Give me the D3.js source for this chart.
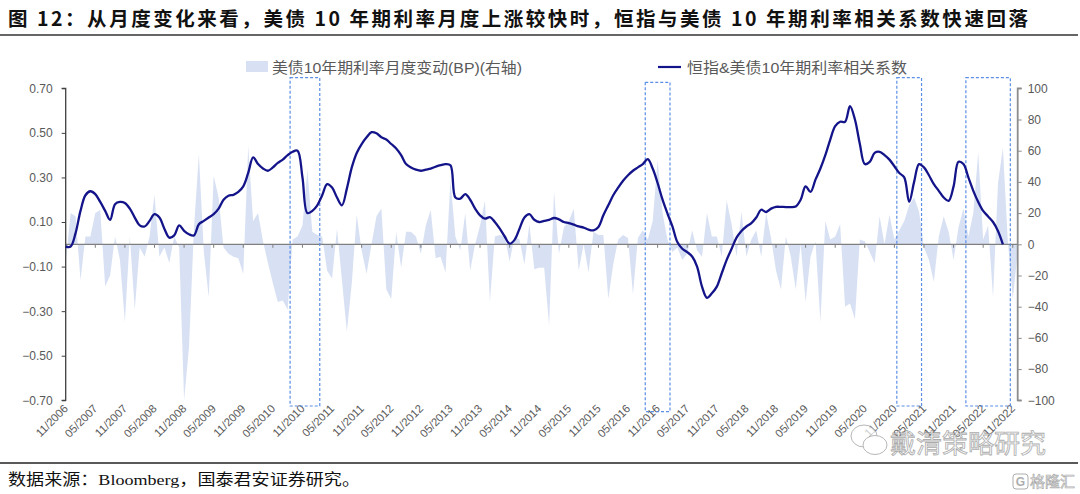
<!DOCTYPE html>
<html><head><meta charset="utf-8">
<script src="https://cdn.jsdelivr.net/npm/d3@7/dist/d3.min.js"></script>
<style>body{margin:0;background:#fff}svg{display:block}</style>
</head><body><svg id="c" width="1080" height="494"></svg>
<script>
// ---------------- data ----------------
const startMonth = "2006-11";
const monthCount = 194; // 11/2006 .. 12/2022

// 美债10年期利率月度变动(BP) — right axis
const bpChange = [
 -12, 20, 18,-23,  5,  5, 20, 22,-27,-20,
   5,-10,-50,  5,-42, -2, -8,  5, 32, -8,
  -2,-12,  5, -2,-100,-66, 10, 58, -5,-34,
  44, 30, -2, -6, -8, -9,-19, 63, 15, 20,
   2,-12,-25,-37,-36,-42,  3,  5, 12, 48,
   8,  6,  5,-17,-22, 10,-23,-56,-25, 19,
  -4,-19,  0, 18, 23,-29,-35,  8,-15,  8,
   8,  5, -6, 12, 22, -9, -8,-18, 41,  5,
  -4, 20,-17,  0, 12, 28,-37,  5,  6,  5,
 -11,  5,  3,-13, 13,-16,-15,-15,-52, 34,
  -6, 11, 15, 23,-17,  0,-18,  8,  6,  6,
 -35,-13,  3,  6,  4,-32,  4,  9,  3, 15,
  54, 20,  3, -5, -2,-10, -6,  9, -4, -8,
  20,  5,  5, -8, 28, 13, -8, 21, -8,  3,
   9, -8, 20,  4,-17,-29,  5, -8,-29,  0,
 -37, -8,  2,-50, 15,  3,  5, 13,-40,-38,
 -48,  3,  2, -5,-12, 18,  0, 19,  3,  9,
  15, 25, 30, 21, -2,-10,-24,  5, 18,  8,
 -10, 11, 23,  5, 20, 59,  3, 12,-34, 39,
  62,  2,-35, -5
];

// 恒指&美债10年期利率相关系数 — left axis
const correlation = [
 -0.01,-0.01,0.05,0.15,0.22,0.238,0.225,0.19,0.15,0.11,
 0.18,0.19,0.185,0.16,0.12,0.085,0.08,0.105,0.135,0.12,
 0.07,0.03,0.04,0.085,0.06,0.045,0.04,0.09,0.105,0.12,
 0.135,0.16,0.2,0.218,0.222,0.235,0.26,0.32,0.39,0.36,
 0.34,0.33,0.345,0.365,0.38,0.4,0.415,0.42,0.3,0.14,
 0.15,0.175,0.22,0.27,0.255,0.21,0.175,0.25,0.345,0.41,
 0.45,0.48,0.503,0.498,0.48,0.47,0.45,0.43,0.4,0.36,
 0.345,0.335,0.33,0.335,0.34,0.348,0.355,0.36,0.355,0.21,
 0.205,0.225,0.2,0.16,0.13,0.115,0.122,0.1,0.07,0.035,
 0.003,0.02,0.07,0.12,0.135,0.11,0.1,0.105,0.11,0.118,
 0.112,0.1,0.095,0.088,0.08,0.075,0.066,0.063,0.078,0.13,
 0.175,0.22,0.254,0.285,0.31,0.33,0.345,0.36,0.382,0.34,
 0.275,0.2,0.138,0.08,0.01,-0.02,-0.035,-0.055,-0.1,-0.19,
 -0.24,-0.22,-0.19,-0.13,-0.07,-0.02,0.03,0.06,0.08,0.095,
 0.12,0.155,0.145,0.16,0.168,0.168,0.167,0.167,0.17,0.2,
 0.26,0.235,0.29,0.34,0.4,0.47,0.53,0.55,0.55,0.62,
 0.56,0.45,0.36,0.37,0.41,0.415,0.4,0.38,0.35,0.32,
 0.3,0.19,0.28,0.36,0.345,0.31,0.27,0.24,0.21,0.195,
 0.26,0.37,0.36,0.3,0.24,0.19,0.15,0.125,0.1,0.06,
 0.0
];

const leftTicks = [-0.7,-0.5,-0.3,-0.1,0.1,0.3,0.5,0.7];
const rightTicks = [-100,-80,-60,-40,-20,0,20,40,60,80,100];
const highlightPeriods = [["2010-09","2011-02"],["2016-09","2017-01"],["2020-12","2021-04"],["2022-02","2022-10"]];

const titleText = "图 12：从月度变化来看，美债 10 年期利率月度上涨较快时，恒指与美债 10 年期利率相关系数快速回落";
const legendArea = "美债10年期利率月度变动(BP)(右轴)";
const legendLine = "恒指&美债10年期利率相关系数";
const sourceText = "数据来源：Bloomberg，国泰君安证券研究。";

// ---------------- layout / style ----------------
const W = 1080, H = 494;
const plot = {left: 65.7, right: 1017.7, top: 88.3, bottom: 400.3};
const rectExtent = [{t:-10.6,b:5.7},{t:-6,b:11.3},{t:-10.6,b:5.7},{t:-10.6,b:5.7}];
const areaColor = "#d8e1f3", lineColor = "#14148a", textGray = "#595959";

const svg = d3.select("#c");
const parseM = d3.timeParse("%Y-%m");
const fmtKey = d3.timeFormat("%Y-%m");
const fmtLab = d3.timeFormat("%m/%Y");
const start = parseM(startMonth);
const months = d3.range(monthCount).map(i => d3.timeMonth.offset(start, i));
const keys = months.map(fmtKey);

const x = d3.scalePoint().domain(keys).range([plot.left, plot.right]);
const yL = d3.scaleLinear().domain([-0.7, 0.7]).range([plot.bottom, plot.top]);
const yR = d3.scaleLinear().domain([-100, 100]).range([plot.bottom, plot.top]);

// title
svg.append("text").attr("x", 8).attr("y", 26)
  .attr("font-family", "'Noto Sans CJK SC', sans-serif").attr("font-weight", 700)
  .attr("font-size", 19.5).attr("fill", "#111")
  .attr("textLength", 1020).attr("lengthAdjust", "spacing").text(titleText);
svg.append("line").attr("x1", 0).attr("x2", 1078).attr("y1", 35).attr("y2", 35)
  .attr("stroke", "#333").attr("stroke-width", 1.6);

// legend
svg.append("rect").attr("x", 246).attr("y", 61).attr("width", 22).attr("height", 11).attr("fill", areaColor);
svg.append("text").attr("x", 272).attr("y", 73).attr("font-family", "'Liberation Sans','Noto Sans CJK SC',sans-serif")
  .attr("font-size", 15).attr("fill", textGray).attr("textLength", 250).attr("lengthAdjust", "spacingAndGlyphs").text(legendArea);
svg.append("line").attr("x1", 658).attr("x2", 681).attr("y1", 67).attr("y2", 67).attr("stroke", lineColor).attr("stroke-width", 2.2);
svg.append("text").attr("x", 687).attr("y", 73).attr("font-family", "'Liberation Sans','Noto Sans CJK SC',sans-serif")
  .attr("font-size", 15).attr("fill", textGray).attr("textLength", 220).attr("lengthAdjust", "spacingAndGlyphs").text(legendLine);

// area (right axis)
const area = d3.area().x((d, i) => x(keys[i])).y0(yR(0)).y1(d => yR(d)).curve(d3.curveLinear);
svg.append("path").datum(bpChange).attr("d", area).attr("fill", areaColor);

// zero line with ticks
svg.append("line").attr("x1", plot.left).attr("x2", plot.right).attr("y1", yR(0)).attr("y2", yR(0))
  .attr("stroke", "#7f7f7f").attr("stroke-width", 1.3);
const tickKeys = keys.filter((k, i) => i % 6 === 0);
svg.append("g").selectAll("line").data(tickKeys).join("line")
  .attr("x1", d => x(d)).attr("x2", d => x(d)).attr("y1", yR(0)).attr("y2", yR(0) + 3.5)
  .attr("stroke", "#7f7f7f").attr("stroke-width", 1);

// x labels
svg.append("g").selectAll("text").data(tickKeys).join("text")
  .attr("transform", d => `translate(${x(d) + 3},${plot.bottom + 9}) rotate(-45)`)
  .attr("text-anchor", "end").attr("font-family", "'Liberation Sans',Arial,sans-serif")
  .attr("font-size", 11.3).attr("fill", textGray)
  .text(d => fmtLab(parseM(d)));

// left axis
const axL = svg.append("g").attr("transform", `translate(${plot.left},0)`)
  .call(d3.axisLeft(yL).tickValues(leftTicks).tickFormat(d3.format(".2f")).tickSize(4).tickPadding(9));
axL.select(".domain").attr("stroke", "#404040").attr("stroke-width", 1.3).attr("d", `M-4,${plot.top}H0V${plot.bottom}H-4`);
axL.selectAll(".tick line").attr("stroke", "#404040");
axL.selectAll(".tick text").attr("font-family", "'Liberation Sans',Arial,sans-serif").attr("font-size", 12).attr("fill", textGray);

// right axis
const axR = svg.append("g").attr("transform", `translate(${plot.right},0)`)
  .call(d3.axisRight(yR).tickValues(rightTicks).tickFormat(d3.format("d")).tickSize(4).tickPadding(6));
axR.select(".domain").attr("stroke", "#8c8c8c").attr("stroke-width", 1.8).attr("d", `M4,${plot.top}H0V${plot.bottom}H4`);
axR.selectAll(".tick line").attr("stroke", "#8c8c8c");
axR.selectAll(".tick text").attr("font-family", "'Liberation Sans',Arial,sans-serif").attr("font-size", 12).attr("fill", textGray);

// highlight rectangles
svg.append("g").selectAll("rect").data(highlightPeriods).join("rect")
  .attr("x", d => x(d[0]) - 2.5)
  .attr("width", d => x(d[1]) - x(d[0]) + 5)
  .attr("y", (d, i) => plot.top + rectExtent[i].t)
  .attr("height", (d, i) => (plot.bottom + rectExtent[i].b) - (plot.top + rectExtent[i].t))
  .attr("fill", "none").attr("stroke", "#5b8ee6").attr("stroke-width", 1.2).attr("stroke-dasharray", "3,2");

// correlation line
const line = d3.line().x((d, i) => x(keys[i])).y(d => yL(d)).curve(d3.curveCatmullRom.alpha(0.5));
svg.append("path").datum(correlation).attr("d", line).attr("fill", "none")
  .attr("stroke", lineColor).attr("stroke-width", 2.3).attr("stroke-linejoin", "round");

// watermark
const wm = svg.append("g").attr("opacity", 0.7);
wm.append("ellipse").attr("cx", 864).attr("cy", 436).attr("rx", 13).attr("ry", 11).attr("fill", "#fff").attr("stroke", "#999");
wm.append("ellipse").attr("cx", 875).attr("cy", 445).attr("rx", 12).attr("ry", 9.5).attr("fill", "#fff").attr("stroke", "#999");
wm.append("text").attr("x", 890).attr("y", 453).attr("font-family", "'Noto Sans CJK SC',sans-serif").attr("font-size", 26)
  .attr("fill", "#fafafa").attr("stroke", "#8a8a8a").attr("stroke-width", 0.8).text("戴清策略研究");

// bottom rule and source
svg.append("line").attr("x1", 0).attr("x2", 1078).attr("y1", 463).attr("y2", 463).attr("stroke", "#222").attr("stroke-width", 1.4);
svg.append("text").attr("x", 8).attr("y", 485).attr("font-family", "'Liberation Serif','Noto Sans CJK SC',serif")
  .attr("font-size", 15.5).attr("fill", "#111").attr("textLength", 352).attr("lengthAdjust", "spacingAndGlyphs").text(sourceText);

const logo = svg.append("g").attr("opacity", 0.8);
logo.append("rect").attr("x", 1013).attr("y", 474).attr("width", 15).attr("height", 15).attr("rx", 3).attr("fill", "none").attr("stroke", "#999");
logo.append("text").attr("x", 1020.5).attr("y", 486).attr("text-anchor", "middle").attr("font-family", "'Liberation Sans',sans-serif").attr("font-size", 12).attr("font-weight", 700).attr("fill", "#999").text("G");
logo.append("text").attr("x", 1030).attr("y", 487).attr("font-family", "'Noto Sans CJK SC',sans-serif").attr("font-size", 15)
  .attr("fill", "#fafafa").attr("stroke", "#999").attr("stroke-width", 0.7).text("格隆汇");
</script></body></html>
